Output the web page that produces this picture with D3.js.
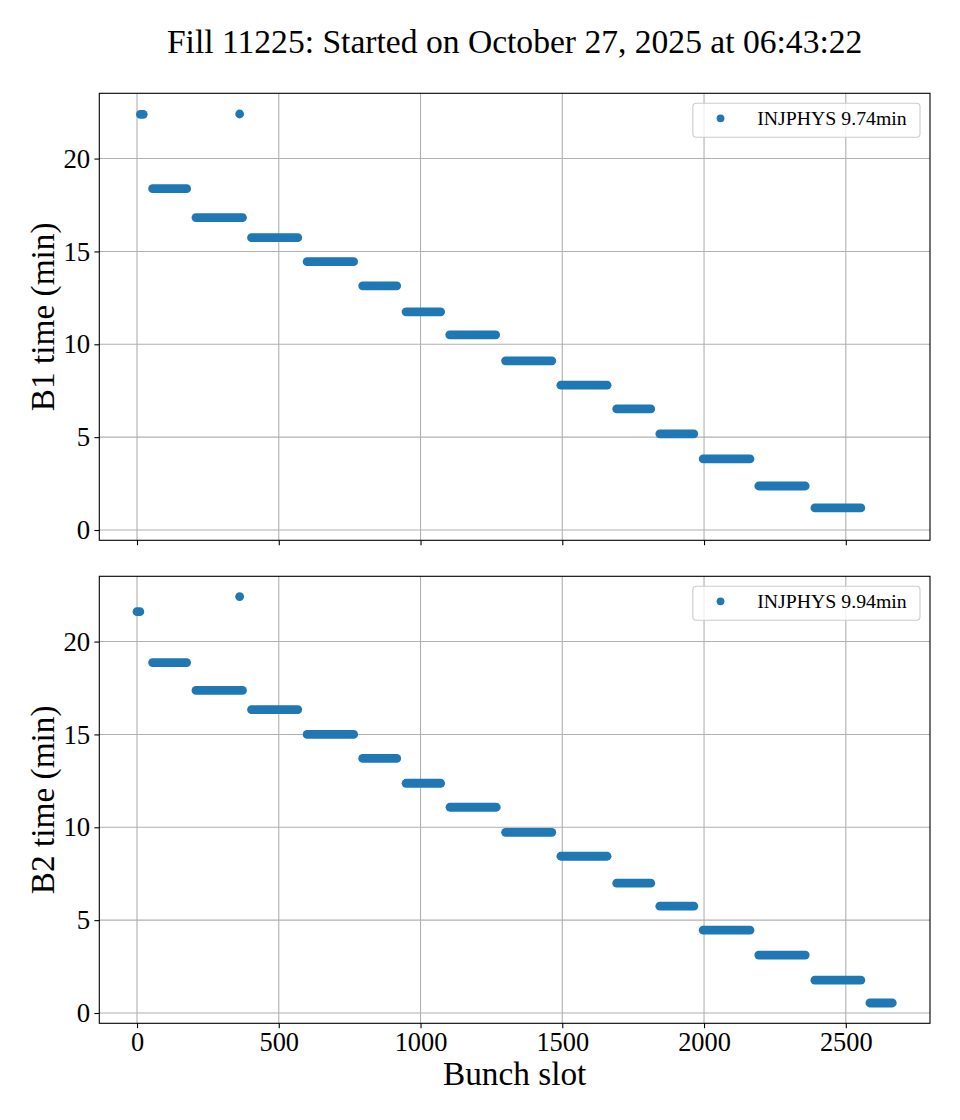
<!DOCTYPE html>
<html>
<head>
<meta charset="utf-8">
<script src="https://cdn.jsdelivr.net/npm/d3@7"></script>
<style>
  body { margin: 0; background: #fff; }
  svg text { font-family: "Liberation Serif", "Times New Roman", serif; fill: #000; }
</style>
</head>
<body>
<div id="chart"></div>
<script>
// batches of bunches: first slot, last slot, injection time (min)
const b1Start = [12, 362, 55, 208, 404, 600, 796, 949, 1103, 1300, 1495, 1692, 1844, 1997, 2193, 2391];
const b1End   = [22, 362, 175, 372, 567, 764, 916, 1071, 1265, 1463, 1658, 1812, 1964, 2162, 2357, 2553];
const b1Time  = [22.38, 22.40, 18.38, 16.82, 15.74, 14.45, 13.15, 11.75, 10.51, 9.11, 7.80, 6.52, 5.18, 3.83, 2.37, 1.19];

const b2Start = [0, 362, 55, 208, 404, 600, 796, 949, 1104, 1300, 1495, 1692, 1844, 1997, 2193, 2391, 2585];
const b2End   = [10, 362, 175, 372, 567, 764, 916, 1071, 1267, 1463, 1658, 1812, 1964, 2162, 2357, 2553, 2664];
const b2Time  = [21.61, 22.42, 18.87, 17.37, 16.34, 15.00, 13.71, 12.37, 11.08, 9.73, 8.44, 6.99, 5.75, 4.46, 3.12, 1.77, 0.54];

const xTicks = [0, 500, 1000, 1500, 2000, 2500];
const yTicks = [0, 5, 10, 15, 20];
const legendLabels = ["INJPHYS 9.74min", "INJPHYS 9.94min"];
const yLabels = ["B1 time (min)", "B2 time (min)"];
const title = "Fill 11225: Started on October 27, 2025 at 06:43:22";

const W = 960, H = 1120;
const left = 99.3, right = 930;
const panels = [{ top: 93.3, bottom: 540.3 }, { top: 576.3, bottom: 1023.3 }];
const blue = "#1f77b4";
const r = 4.4;

const svg = d3.select("#chart").append("svg")
    .attr("width", W)
    .attr("height", H);

const x = d3.scaleLinear().domain([-133, 2797]).range([left, right]);

// shared y extent with 5% margin like matplotlib
const allT = b1Time.concat(b2Time);
const tMin = d3.min(allT), tMax = d3.max(allT);
const m = (tMax - tMin) * 0.05;

svg.append("text")
    .attr("x", (left + right) / 2)
    .attr("y", 53)
    .attr("text-anchor", "middle")
    .attr("font-size", 33.6)
    .text(title);

function drawPanel(i, starts, ends, times) {
    const p = panels[i];
    const y = d3.scaleLinear().domain([tMin - m, tMax + m]).range([p.bottom, p.top]);
    const batches = starts.map((s, k) => ({ s: s, e: ends[k], t: times[k] }));
    const g = svg.append("g");

    // grid
    g.append("g").selectAll("line").data(xTicks).join("line")
        .attr("x1", d => x(d)).attr("x2", d => x(d))
        .attr("y1", p.top).attr("y2", p.bottom)
        .attr("stroke", "#b0b0b0").attr("stroke-width", 1.1);
    g.append("g").selectAll("line").data(yTicks).join("line")
        .attr("x1", left).attr("x2", right)
        .attr("y1", d => y(d)).attr("y2", d => y(d))
        .attr("stroke", "#b0b0b0").attr("stroke-width", 1.1);

    // overlapping bunch markers merge into one capsule per batch
    g.append("g").selectAll("rect").data(batches).join("rect")
        .attr("x", d => x(d.s) - r)
        .attr("y", d => y(d.t) - r)
        .attr("width", d => x(d.e) - x(d.s) + 2 * r)
        .attr("height", 2 * r)
        .attr("rx", r).attr("ry", r)
        .attr("fill", blue);

    // axes
    const xAxis = d3.axisBottom(x).tickValues(xTicks).tickSize(4.9).tickPadding(3.6).tickFormat(d3.format("d"));
    if (i === 0) xAxis.tickFormat("");
    const ax = g.append("g")
        .attr("transform", `translate(0,${p.bottom})`)
        .call(xAxis);
    ax.select(".domain").remove();
    ax.selectAll("line").attr("stroke", "#000").attr("stroke-width", 1.1);
    ax.selectAll("text").attr("font-size", 26.4).attr("font-family", "Liberation Serif").attr("fill", "#000");

    const yAxis = d3.axisLeft(y).tickValues(yTicks).tickSize(4.9).tickPadding(4.2);
    const ay = g.append("g")
        .attr("transform", `translate(${left},0)`)
        .call(yAxis);
    ay.select(".domain").remove();
    ay.selectAll("line").attr("stroke", "#000").attr("stroke-width", 1.1);
    ay.selectAll("text").attr("font-size", 26.8).attr("font-family", "Liberation Serif").attr("fill", "#000");

    g.append("rect")
        .attr("x", left).attr("y", p.top)
        .attr("width", right - left).attr("height", p.bottom - p.top)
        .attr("fill", "none").attr("stroke", "#000").attr("stroke-width", 1.1);

    svg.append("text")
        .attr("transform", `translate(54,${(p.top + p.bottom) / 2}) rotate(-90)`)
        .attr("text-anchor", "middle")
        .attr("font-size", 33.3)
        .text(yLabels[i]);

    // legend
    const lg = g.append("g");
    const txt = lg.append("text")
        .attr("font-size", 19.8)
        .attr("y", p.top + 31.7)
        .text(legendLabels[i]);
    const tw = txt.node().getComputedTextLength();
    const boxRight = right - 10;
    const textX = boxRight - 13.3 - tw;
    txt.attr("x", textX);
    const dotX = textX - 36.7;
    const boxLeft = dotX - 27.7;
    lg.insert("rect", "text")
        .attr("x", boxLeft).attr("y", p.top + 10)
        .attr("width", boxRight - boxLeft).attr("height", 34)
        .attr("rx", 3.5)
        .attr("fill", "#fff").attr("fill-opacity", 0.8)
        .attr("stroke", "#cccccc").attr("stroke-width", 1.1);
    lg.append("circle")
        .attr("cx", dotX).attr("cy", p.top + 25)
        .attr("r", 3.9)
        .attr("fill", blue);
}

drawPanel(0, b1Start, b1End, b1Time);
drawPanel(1, b2Start, b2End, b2Time);

svg.append("text")
    .attr("x", (left + right) / 2)
    .attr("y", 1085)
    .attr("text-anchor", "middle")
    .attr("font-size", 33.3)
    .text("Bunch slot");
</script>
</body>
</html>
